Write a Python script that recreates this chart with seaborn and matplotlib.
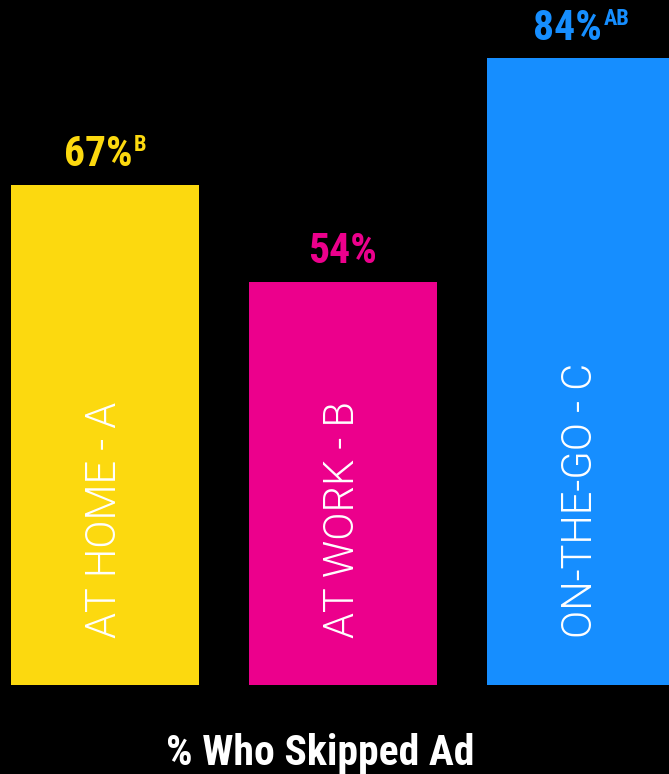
import matplotlib
matplotlib.use("Agg")
import matplotlib.pyplot as plt
import seaborn as sns
import pandas as pd

locations = ["AT HOME - A", "AT WORK - B", "ON-THE-GO - C"]
skipped = [67, 54, 84]
sig_marks = ["B", "", "AB"]
colors = ["#FCD90F", "#EC008C", "#168EFF"]

df = pd.DataFrame({"Location": locations, "Skipped": skipped})

sns.set_style("dark")
plt.rcParams["font.family"] = ["Roboto Condensed", "DejaVu Sans"]

fig = plt.figure(figsize=(6.69, 7.74), dpi=100, facecolor="black")
ax = fig.add_axes([0, 89 / 774, 1, 685 / 774])
ax.set_facecolor("black")

sns.barplot(data=df, x="Location", y="Skipped", hue="Location",
            palette=colors, width=0.79, saturation=1, linewidth=0,
            legend=False, ax=ax)

ax.set_xlim(-105 / 238, 564 / 238)
ax.set_ylim(0, 685 / 7.46)
ax.set_xticks([])
ax.set_yticks([])
ax.set_xlabel("")
ax.set_ylabel("")
for s in ax.spines.values():
    s.set_visible(False)

for i, (name, val, sig, c) in enumerate(zip(locations, skipped, sig_marks, colors)):
    shift = -len(sig) * 4.8
    main = ax.annotate(f"{val}%", xy=(i, val), xytext=(shift, 13.5),
                       textcoords="offset points", ha="center", va="baseline",
                       color=c, fontsize=30, fontweight="bold")
    if sig:
        ax.annotate(sig, xy=(1, 1), xycoords=main, xytext=(1, 0),
                    textcoords="offset points", ha="left", va="top",
                    color=c, fontsize=16, fontweight="bold")
    ax.text(i, 6.3, name, rotation=90, ha="center", va="bottom",
            color="white", fontsize=30, family=["Roboto", "DejaVu Sans"],
            fontweight=300)

fig.text(320 / 669, 9 / 774, "% Who Skipped Ad", ha="center", va="baseline",
         color="white", fontsize=30, fontweight="bold")

fig.savefig("out.png", dpi=100, facecolor="black")
